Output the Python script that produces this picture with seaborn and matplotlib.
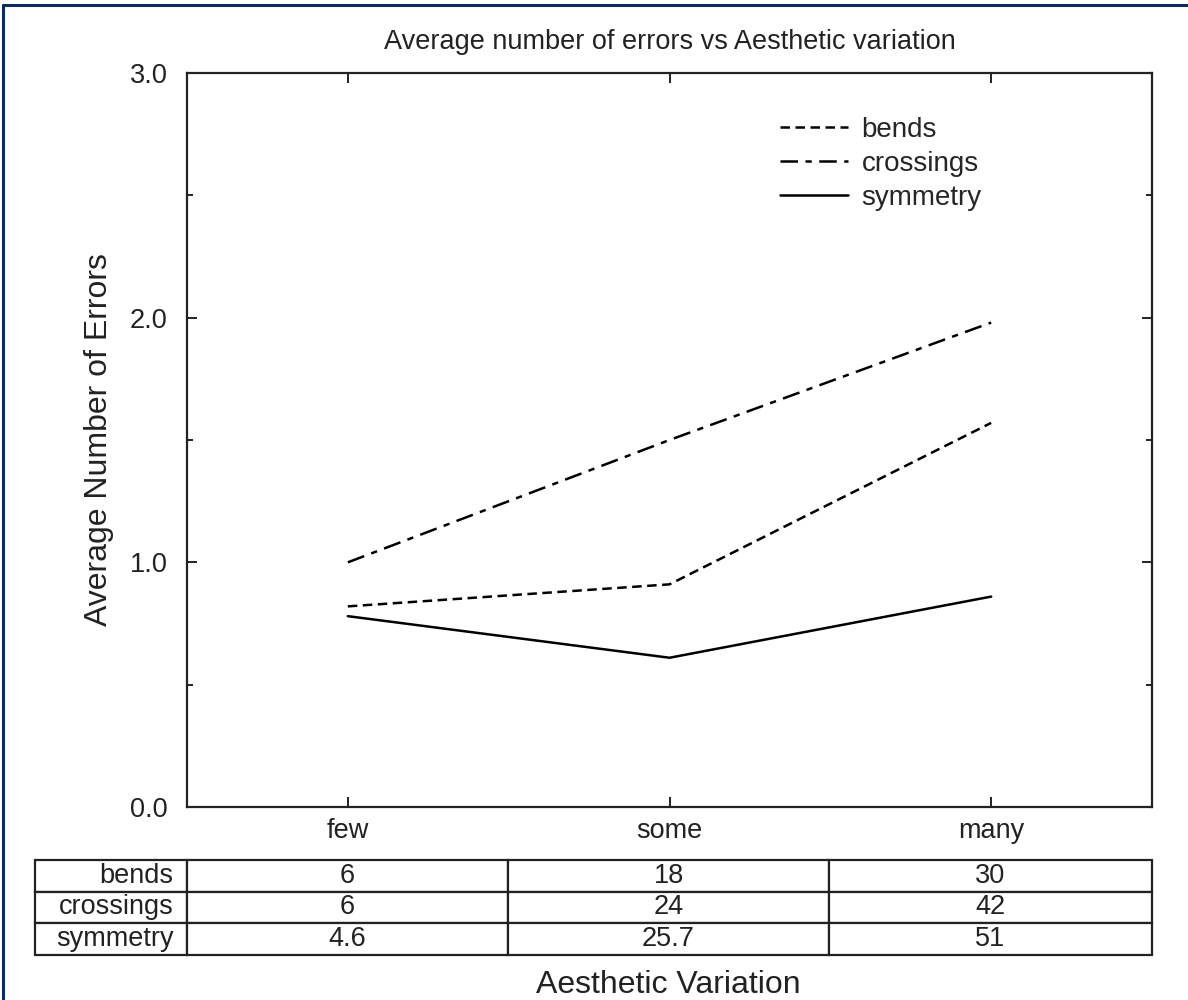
import numpy as np
import pandas as pd
import seaborn as sns
import matplotlib.pyplot as plt
from matplotlib.lines import Line2D
from matplotlib.ticker import MultipleLocator, FormatStrFormatter

# -------- data --------
categories = ["few", "some", "many"]
series_names = ["bends", "crossings", "symmetry"]
bends = [0.82, 0.91, 1.57]
crossings = [1.00, 1.50, 1.98]
symmetry = [0.78, 0.61, 0.86]

# table under the plot
bends_counts = ["6", "18", "30"]
crossings_counts = ["6", "24", "42"]
symmetry_counts = ["4.6", "25.7", "51"]

df = pd.DataFrame({
    "variation": categories * 3,
    "errors": bends + crossings + symmetry,
    "series": [s for s in series_names for _ in categories],
})

sns.set_style("ticks")
plt.rcParams['font.family'] = ['Liberation Sans', 'DejaVu Sans']

fig = plt.figure(figsize=(11.88, 10), dpi=100)
ax = fig.add_axes([187 / 1188, 1 - 807 / 1000, 965 / 1188, 734 / 1000])

sns.lineplot(data=df, x="variation", y="errors", style="series",
             dashes={"bends": (3.8, 2.2), "crossings": (7, 3, 2.5, 3), "symmetry": ""},
             color="black", lw=1.8, sort=False, ax=ax)

# legend, no frame, top right
leg = ax.get_legend()
handles = leg.legend_handles
labels = [t.get_text() for t in leg.get_texts()]
for h in handles:
    h.set_linewidth(1.8)
    h.set_color("black")
ax.legend(handles, labels, loc="upper left", bbox_to_anchor=(0.614, 0.94),
          frameon=False, fontsize=20, handlelength=2.45, handletextpad=0.5,
          labelspacing=0.28, borderaxespad=0, borderpad=0)

ax.set_xlim(-0.5, 2.5)
ax.set_ylim(0, 3)
ax.yaxis.set_major_locator(MultipleLocator(1))
ax.yaxis.set_minor_locator(MultipleLocator(0.5))
ax.yaxis.set_major_formatter(FormatStrFormatter("%.1f"))
ax.tick_params(which="both", direction="in", top=True, right=True,
               width=1.4, color="#222222", labelcolor="#222222")
ax.tick_params(which="major", length=7, labelsize=19.5)
ax.tick_params(axis="y", which="major", pad=14)
ax.tick_params(axis="x", which="major", pad=8)
ax.tick_params(which="minor", length=4)
for sp in ax.spines.values():
    sp.set_linewidth(1.6)
    sp.set_color("#222222")

ax.set_xlabel("")
ax.set_ylabel("Average Number of Errors", fontsize=23, labelpad=11, color="#222222")
ax.set_title("Average number of errors vs Aesthetic variation", fontsize=19.5, pad=17,
             color="#222222")

# -------- table below --------
ax_t = fig.add_axes([35 / 1188, 1 - 955 / 1000, 1117 / 1188, 95 / 1000])
ax_t.axis("off")
cell_text = [["bends"] + bends_counts,
             ["crossings"] + crossings_counts,
             ["symmetry"] + symmetry_counts]
widths = np.array([152, 321, 321, 323], dtype=float)
tbl = ax_t.table(cellText=cell_text, colWidths=list(widths / widths.sum()),
                 cellLoc="center", bbox=[0, 0, 1, 1])
tbl.auto_set_font_size(False)
tbl.set_fontsize(19.5)
for (r, c), cell in tbl.get_celld().items():
    cell.set_linewidth(1.6)
    cell.set_edgecolor("#222222")
    cell.get_text().set_color("#222222")
    if c == 0:
        cell.PAD = 0.09
        cell.get_text().set_horizontalalignment("right")

fig.text(668 / 1188, 1 - 985 / 1000, "Aesthetic Variation", ha="center", va="center",
         fontsize=23, color="#222222")

# blue frame on top and left edges
fig.add_artist(Line2D([3 / 1188, 3 / 1188], [0, 1 - 5 / 1000], transform=fig.transFigure,
                      color="#0b2a6b", lw=2.2))
fig.add_artist(Line2D([3 / 1188, 1], [1 - 5 / 1000, 1 - 5 / 1000], transform=fig.transFigure,
                      color="#0b2a6b", lw=2.2))

fig.savefig("out.png", dpi=100)
